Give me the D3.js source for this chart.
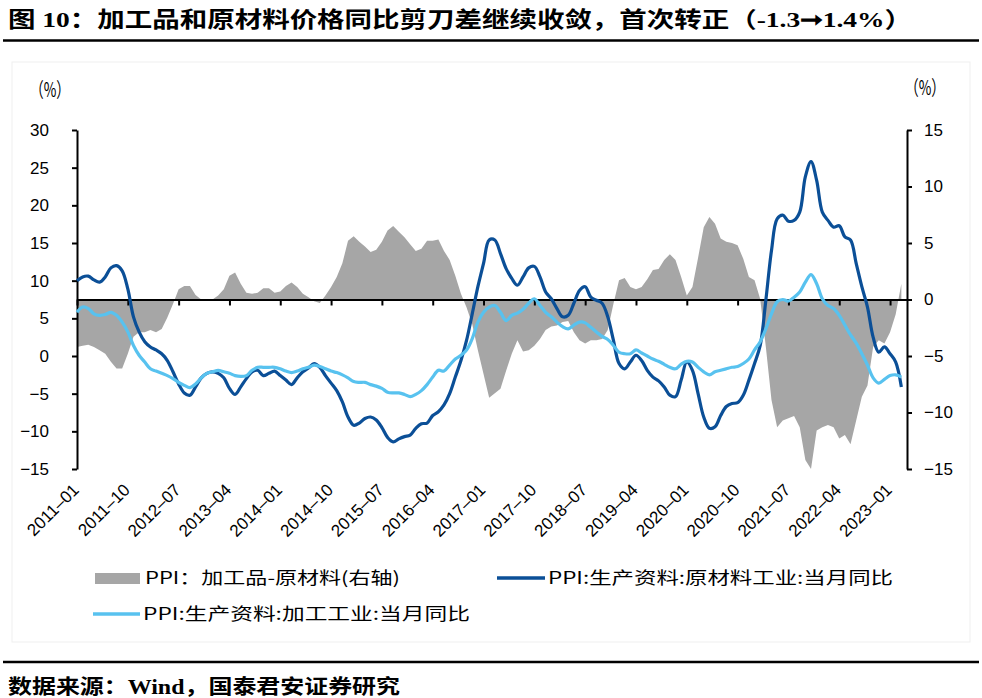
<!DOCTYPE html>
<html><head><meta charset="utf-8">
<script src="https://cdn.jsdelivr.net/npm/d3@7"></script>
<style>body{margin:0;background:#fff}svg{display:block}</style>
</head><body>
<svg id="c" width="982" height="698"></svg>
<script>
// ---- data ----
const startYear = 2011, startMonth = 1;
const tickStep = 9;
const rawMaterials = [
10.0,10.5,10.6,10.1,9.8,10.5,11.7,12.0,11.3,8.9,
5.2,3.2,1.9,1.2,0.8,0.3,-0.6,-2.1,-3.7,-4.9,
-5.2,-4.1,-2.9,-2.3,-2.1,-2.3,-2.9,-4.3,-5.1,-4.1,
-3.0,-2.1,-1.9,-2.6,-2.3,-2.0,-2.6,-3.2,-3.8,-2.9,
-2.1,-1.6,-1.0,-1.5,-2.6,-3.6,-4.6,-6.1,-8.1,-9.2,
-8.9,-8.3,-8.1,-8.5,-9.5,-10.8,-11.4,-11.0,-10.7,-10.5,
-9.6,-9.0,-8.9,-7.9,-7.4,-6.5,-5.0,-2.8,-0.6,2.1,
5.6,9.2,12.3,15.4,15.4,13.6,11.6,10.3,9.4,10.5,
11.7,11.9,10.5,8.5,7.6,6.3,5.2,5.4,7.0,8.7,
9.2,7.8,7.4,7.0,5.2,2.1,-1.0,-1.7,-0.8,0.1,
-0.6,-1.9,-2.8,-3.3,-4.1,-5.2,-5.4,-3.2,-0.8,-1.9,
-5.0,-8.1,-9.6,-9.4,-7.9,-6.7,-6.3,-6.2,-5.2,-3.2,
-1.0,1.4,7.4,14.0,18.2,18.7,17.9,18.0,19.1,23.8,
25.8,23.3,19.1,18.0,17.1,17.3,15.8,15.4,12.3,9.2,
6.5,2.5,0.5,1.2,0.3,-0.8,-4.1];
const processing = [
5.8,6.5,6.3,5.6,5.4,5.5,5.8,5.4,4.5,3.2,
1.4,0.1,-0.8,-1.7,-2.0,-2.3,-2.6,-3.0,-3.5,-3.9,
-4.2,-3.7,-2.9,-2.3,-2.1,-1.9,-2.1,-2.3,-2.6,-2.7,
-2.6,-1.9,-1.5,-1.5,-1.5,-1.5,-1.7,-2.0,-2.2,-2.0,
-1.7,-1.5,-1.2,-1.4,-1.7,-2.0,-2.2,-2.5,-2.9,-3.4,
-3.5,-3.5,-3.8,-4.0,-4.3,-4.8,-4.9,-4.9,-5.1,-5.4,
-5.1,-4.6,-3.8,-2.8,-1.9,-2.0,-1.2,-0.4,0.1,0.8,
2.3,4.5,5.8,6.5,6.7,5.8,4.7,5.4,5.7,6.2,
7.0,7.6,6.7,5.8,5.2,4.5,3.9,3.6,4.1,4.5,
4.4,3.8,3.2,2.6,2.2,1.4,0.5,0.3,0.3,0.8,
0.4,0.0,-0.4,-0.7,-1.1,-1.5,-1.7,-1.1,-0.7,-0.8,
-1.5,-2.1,-2.5,-2.1,-1.9,-1.7,-1.5,-1.4,-1.0,-0.4,
0.8,1.9,3.6,5.6,7.2,7.5,7.3,7.8,8.5,9.8,
10.8,9.6,7.6,6.7,6.3,5.4,4.1,2.8,1.7,0.3,
-1.2,-2.9,-3.6,-3.1,-2.6,-2.5,-2.8];
const spread = [
-4.2,-4.1,-4.0,-4.2,-4.5,-4.8,-5.5,-6.1,-6.1,-4.8,
-3.3,-2.9,-2.9,-2.7,-2.9,-2.6,-1.6,-0.4,0.9,1.2,
1.2,0.4,0.0,-0.1,0.0,0.35,0.9,2.1,2.4,1.4,
0.6,0.5,0.6,1.0,1.0,0.6,0.7,1.2,1.5,1.1,
0.5,0.2,-0.15,-0.3,0.35,1.1,2.0,3.2,5.2,5.6,
5.1,4.7,4.2,4.4,5.1,6.1,6.5,6.0,5.5,4.9,
4.3,4.5,5.2,5.2,5.3,4.3,3.5,2.1,0.5,-0.7,
-2.2,-4.5,-6.6,-8.7,-8.3,-7.9,-6.3,-4.8,-3.6,-4.6,
-4.5,-4.1,-3.5,-2.7,-2.4,-2.3,-2.0,-1.9,-2.9,-3.6,
-3.9,-3.6,-3.6,-3.5,-2.7,-0.4,1.7,1.9,1.1,0.9,
1.1,1.8,2.6,2.7,3.5,4.0,3.5,2.0,0.35,1.1,
3.7,6.4,7.3,6.7,5.4,5.1,5.0,4.8,3.6,2.0,
1.7,0.05,-4.2,-8.9,-11.3,-10.7,-10.5,-10.3,-11.3,-14.2,
-15.0,-11.6,-11.3,-11.1,-11.3,-12.3,-12.0,-12.8,-10.7,-8.6,
-7.6,-4.2,-3.6,-3.9,-2.9,-1.3,1.4];
const leftTicks = [-15,-10,-5,0,5,10,15,20,25,30];
const rightTicks = [-15,-10,-5,0,5,10,15];
const monthLabels = d3.range(rawMaterials.length + 1).map(i => {
  const m = startMonth - 1 + i;
  return (startYear + Math.floor(m / 12)) + "–" + String(m % 12 + 1).padStart(2, "0");
});
const xTickIdx = d3.range(0, monthLabels.length, tickStep);
const titleText = "图 10：加工品和原材料价格同比剪刀差继续收敛，首次转正（-1.3➞1.4%）";
const sourceText = "数据来源：Wind，国泰君安证券研究";
const unitText = "（%）";
const legendSpread = "PPI：加工品-原材料(右轴)";
const legendRaw = "PPI:生产资料:原材料工业:当月同比";
const legendProc = "PPI:生产资料:加工工业:当月同比";

// ---- drawing ----
const svg = d3.select("#c");
const cDark = "#0b4f97", cLight = "#58c2ef", cGray = "#a6a6a6";
const x = d3.scaleLinear().domain([0, monthLabels.length - 1]).range([77, 907]);
const yL = d3.scaleLinear().domain([-15, 30]).range([469, 130]);
const yR = d3.scaleLinear().domain([-15, 15]).range([469, 130]);
const axisFont = "'Liberation Sans', Arial, sans-serif";
const cjk = "'Noto Sans CJK SC', sans-serif";

svg.append("rect").attr("width", 982).attr("height", 698).attr("fill", "#fff");
svg.append("rect").attr("x", 12).attr("y", 62).attr("width", 958).attr("height", 580)
  .attr("fill", "none").attr("stroke", "#efefef").attr("stroke-width", 1);

// title & footer
svg.append("text").attr("x", 8).attr("y", 27).text(titleText)
  .attr("font-family", "'Liberation Serif', 'Noto Sans CJK SC', serif").attr("font-weight", 700)
  .attr("font-size", 22).attr("textLength", 904).attr("lengthAdjust", "spacingAndGlyphs");
svg.append("line").attr("x1", 3).attr("x2", 979).attr("y1", 40.5).attr("y2", 40.5)
  .attr("stroke", "#000").attr("stroke-width", 2.5);
svg.append("line").attr("x1", 3).attr("x2", 979).attr("y1", 662).attr("y2", 662)
  .attr("stroke", "#000").attr("stroke-width", 2.5);
svg.append("text").attr("x", 8).attr("y", 694).text(sourceText)
  .attr("font-family", "'Liberation Serif', 'Noto Sans CJK SC', serif").attr("font-weight", 700)
  .attr("font-size", 20).attr("textLength", 392).attr("lengthAdjust", "spacingAndGlyphs");

// gray area (right axis)
const area = d3.area().x((d, i) => x(i)).y0(yR(0)).y1(d => yR(d));
svg.append("path").datum(spread).attr("d", area).attr("fill", cGray);

// axes
const gl = svg.append("g").attr("transform", "translate(77,0)")
  .call(d3.axisLeft(yL).tickValues(leftTicks).tickSize(5).tickSizeOuter(0).tickPadding(23));
const gr = svg.append("g").attr("transform", "translate(907,0)")
  .call(d3.axisRight(yR).tickValues(rightTicks).tickSize(5).tickSizeOuter(0).tickPadding(12));
[gl, gr].forEach(g => {
  g.selectAll("path,line").attr("stroke", "#000").attr("stroke-width", 2);
  g.selectAll("text").attr("font-family", axisFont).attr("font-size", 17).attr("fill", "#000");
});
const gb = svg.append("g").attr("transform", `translate(0,${yR(0)})`)
  .call(d3.axisBottom(x).tickValues(xTickIdx).tickSize(6).tickSizeOuter(0).tickFormat(""));
gb.selectAll("path,line").attr("stroke", "#000").attr("stroke-width", 2);

// x labels
svg.append("g").selectAll("text").data(xTickIdx).join("text")
  .attr("transform", d => `translate(${x(d) + 3},${491}) rotate(-45)`)
  .attr("text-anchor", "end").attr("font-family", axisFont).attr("font-size", 17)
  .text(d => monthLabels[d]);

// unit labels
svg.append("text").attr("x", 30).attr("y", 97).text(unitText).attr("font-family", cjk)
  .attr("font-size", 20).attr("textLength", 40).attr("lengthAdjust", "spacingAndGlyphs");
svg.append("text").attr("x", 905).attr("y", 95).text(unitText).attr("font-family", cjk)
  .attr("font-size", 20).attr("textLength", 40).attr("lengthAdjust", "spacingAndGlyphs");

// lines
const line = s => d3.line().x((d, i) => x(i)).y(d => s(d)).curve(d3.curveCatmullRom.alpha(0.5));
svg.append("path").datum(rawMaterials).attr("d", line(yL)).attr("fill", "none")
  .attr("stroke", cDark).attr("stroke-width", 3.2).attr("stroke-linejoin", "round");
svg.append("path").datum(processing).attr("d", line(yL)).attr("fill", "none")
  .attr("stroke", cLight).attr("stroke-width", 3.2).attr("stroke-linejoin", "round");

// legend
const lg = svg.append("g");
lg.append("rect").attr("x", 95).attr("y", 573).attr("width", 45).attr("height", 11).attr("fill", cGray);
lg.append("text").attr("x", 145).attr("y", 584).text(legendSpread).attr("font-family", cjk)
  .attr("font-size", 17).attr("textLength", 255).attr("lengthAdjust", "spacingAndGlyphs");
lg.append("line").attr("x1", 497).attr("x2", 545).attr("y1", 578).attr("y2", 578)
  .attr("stroke", cDark).attr("stroke-width", 3.5);
lg.append("text").attr("x", 548).attr("y", 584).text(legendRaw).attr("font-family", cjk)
  .attr("font-size", 17).attr("textLength", 345).attr("lengthAdjust", "spacingAndGlyphs");
lg.append("line").attr("x1", 93).attr("x2", 140).attr("y1", 614).attr("y2", 614)
  .attr("stroke", cLight).attr("stroke-width", 3.5);
lg.append("text").attr("x", 143).attr("y", 620).text(legendProc).attr("font-family", cjk)
  .attr("font-size", 17).attr("textLength", 327).attr("lengthAdjust", "spacingAndGlyphs");
</script>
</body></html>
